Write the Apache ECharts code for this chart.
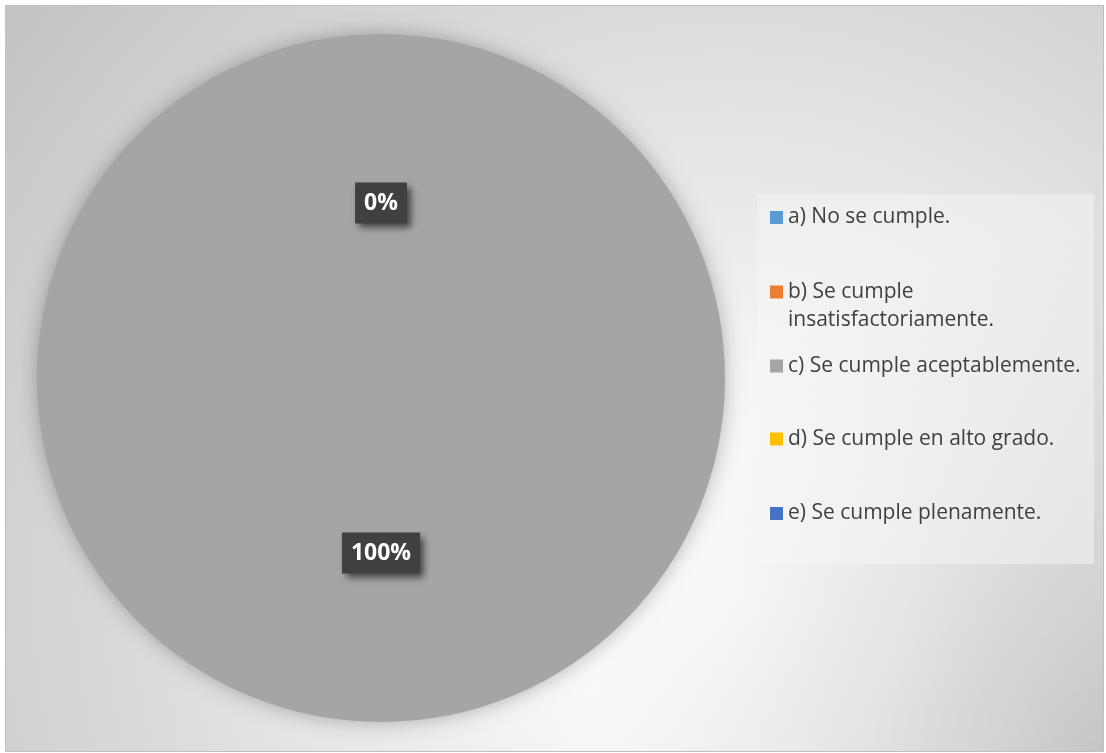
<!DOCTYPE html>
<html><head><meta charset="utf-8">
<script src="https://cdn.jsdelivr.net/npm/echarts@6/dist/echarts.min.js"></script>
<style>html,body{margin:0;padding:0;background:#fff}#c{width:1106px;height:753px}</style>
</head><body><div id="c"></div>
<script>
// ---- data ----
const categories = ['a) No se cumple.', 'b) Se cumple insatisfactoriamente.', 'c) Se cumple aceptablemente.', 'd) Se cumple en alto grado.', 'e) Se cumple plenamente.'];
const values = [0, 0, 100, 0, 0];
const colors = ['#5B9BD5', '#ED7D31', '#A5A5A5', '#FFC000', '#4472C4'];

// ---- layout ----
const legendIconCenters = [217.5, 292, 366, 439, 513.5];
const LH = 28;

function legendText(name) {
  if (name === categories[1]) return '\nb) Se cumple\ninsatisfactoriamente.';
  return name;
}

const legends = categories.map((name, i) => {
  const lines = legendText(name).split('\n').length;
  return {
    data: [name],
    left: 770,
    top: legendIconCenters[i] - lines * LH / 2,
    padding: 0,
    orient: 'vertical',
    icon: 'rect',
    itemWidth: 13,
    itemHeight: 13,
    selectedMode: false,
    formatter: legendText,
    textStyle: { color: '#404040', fontFamily: 'Open Sans', fontSize: 21, lineHeight: LH }
  };
});

const chart = echarts.init(document.getElementById('c'), null, { renderer: 'canvas' });
chart.setOption({
  animation: false,
  color: colors,
  graphic: [
    { type: 'rect', z: 0, z2: 0, silent: true,
      shape: { x: 5.5, y: 5.5, width: 1098, height: 746 },
      style: { fill: { type: 'radial', x: 730, y: 594, r: 930, global: true,
        colorStops: [{ offset: 0, color: '#ffffff' }, { offset: 0.18, color: '#f9f9f9' }, { offset: 1, color: '#c3c3c3' }] },
        stroke: '#bfbfbf', lineWidth: 1 } },
    { type: 'rect', z: 0, z2: 1, silent: true,
      shape: { x: 6, y: 6, width: 1097, height: 745 },
      style: { fill: { type: 'radial', x: 1104, y: 751, r: 520, global: true,
        colorStops: [{ offset: 0, color: 'rgba(0,0,0,0.15)' }, { offset: 1, color: 'rgba(0,0,0,0)' }] } } },
    { type: 'rect', z: 1, silent: true,
      shape: { x: 757, y: 194, width: 337, height: 370 },
      style: { fill: 'rgba(246,246,246,0.5)' } }
  ],
  legend: legends,
  series: [{
    type: 'pie',
    center: [381, 378],
    radius: 344,
    startAngle: 90,
    clockwise: true,
    silent: true,
    data: categories.map((n, i) => ({ name: n, value: values[i] })),
    itemStyle: { borderWidth: 0, shadowBlur: 20, shadowColor: 'rgba(0,0,0,0.28)' },
    label: {
      show: true, position: 'inside', formatter: '{d}%',
      color: '#ffffff', fontFamily: 'Open Sans', fontWeight: 'bold', fontSize: 23, lineHeight: 29,
      padding: [6, 9], backgroundColor: '#404040',
      shadowBlur: 7, shadowOffsetX: 4, shadowOffsetY: 4, shadowColor: 'rgba(0,0,0,0.6)'
    },
    labelLine: { show: false },
    labelLayout: { hideOverlap: true },
    emphasis: { disabled: true }
  }]
});
</script>
</body></html>
